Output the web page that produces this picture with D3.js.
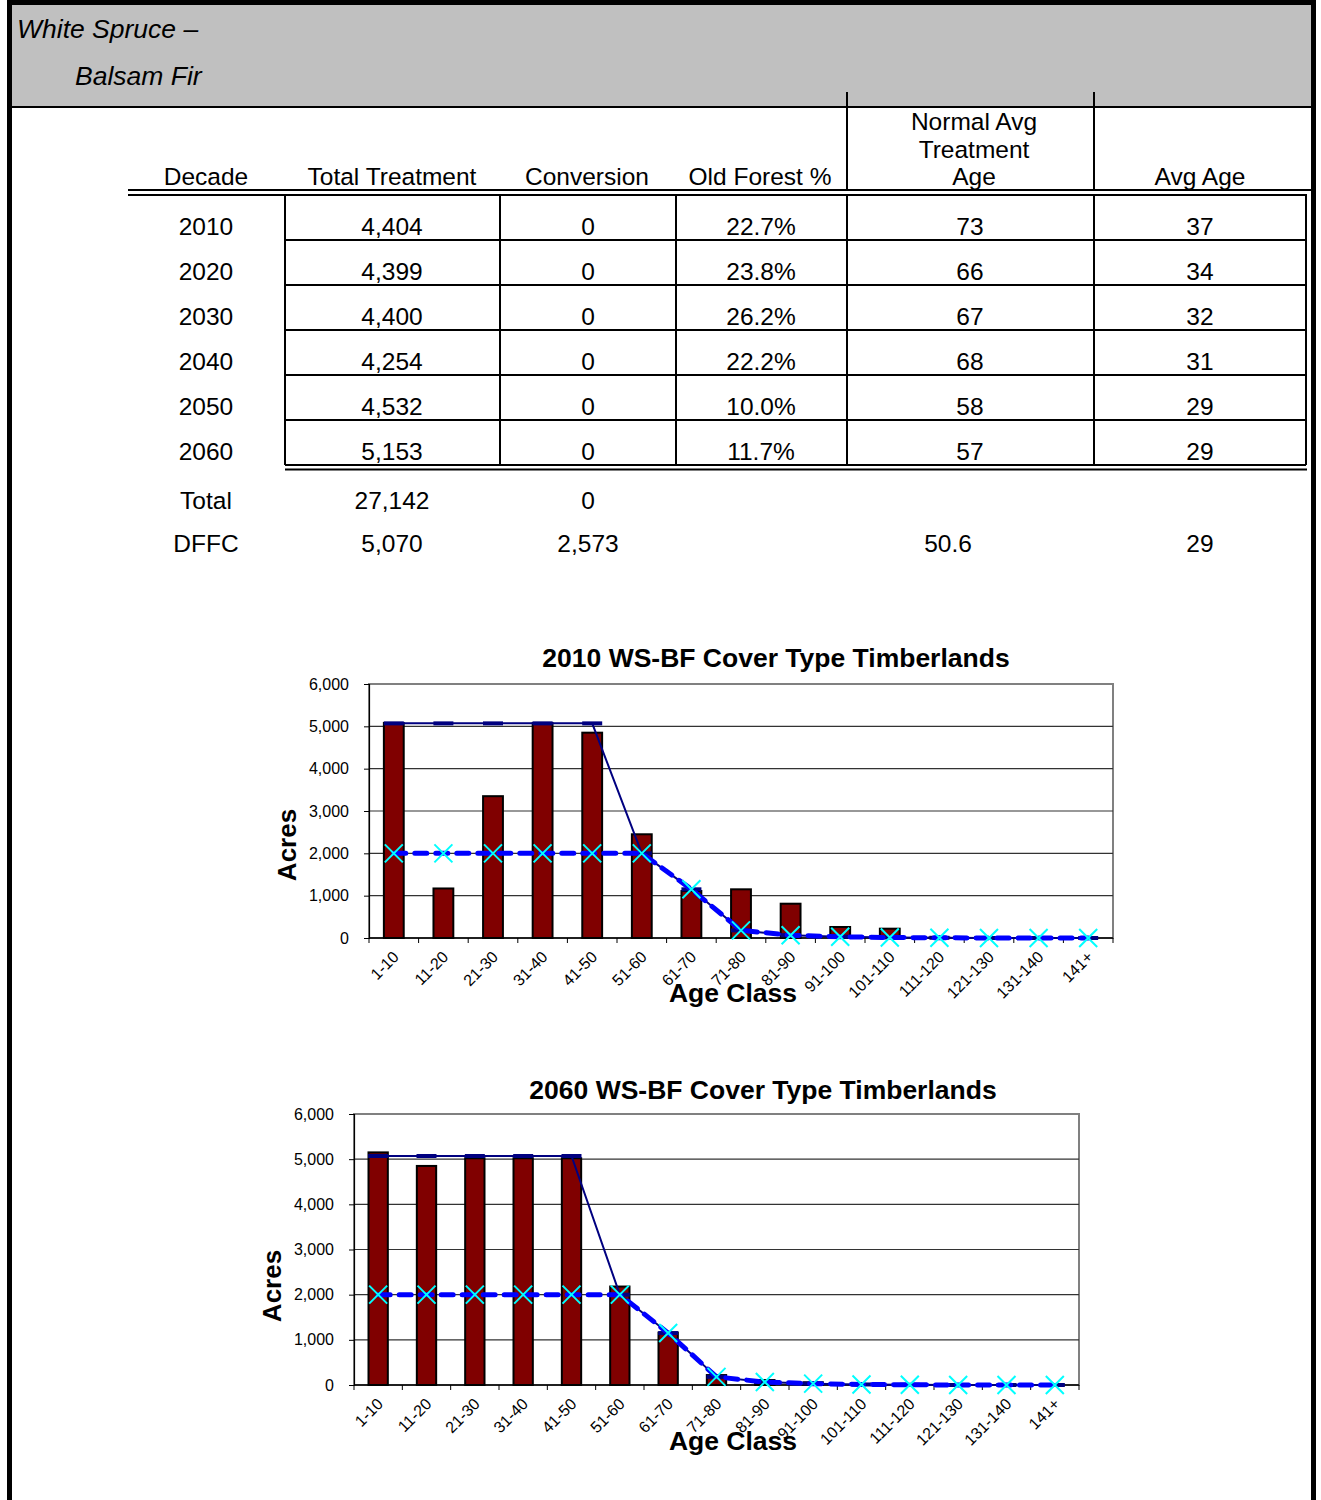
<!DOCTYPE html>
<html><head><meta charset="utf-8">
<script src="https://cdn.jsdelivr.net/npm/d3@7"></script>
<style>
body{margin:0;background:#fff}
svg{display:block;font-family:Arial,"Liberation Sans",sans-serif}
</style>
</head><body>
<svg id="c" width="1321" height="1500"></svg>
<script>
// ---------- DATA ----------
const ageClasses = ["1-10","11-20","21-30","31-40","41-50","51-60","61-70","71-80","81-90","91-100","101-110","111-120","121-130","131-140","141+"];
const acres2010 = [5080,1170,3350,5080,4850,2450,1110,1150,810,260,220,10,5,5,0];
const acres2060 = [5150,4850,5020,5020,5020,2180,1160,220,110,60,10,5,5,5,0];
const dffcLine = [5070,5070,5070,5070,5070,2000,1150,180,65,30,12,5,0,0,0];
const targetLine = [2000,2000,2000,2000,2000,2000,1150,180,65,30,12,5,0,0,0];
const yTicks = [0,1000,2000,3000,4000,5000,6000];

const headerTitle = ["White Spruce –","Balsam Fir"];
const colHeaders = [["Decade"],["Total Treatment"],["Conversion"],["Old Forest %"],["Normal Avg","Treatment","Age"],["Avg Age"]];
const decades = ["2010","2020","2030","2040","2050","2060"];
const totalTreatment = ["4,404","4,399","4,400","4,254","4,532","5,153"];
const conversion = ["0","0","0","0","0","0"];
const oldForest = ["22.7%","23.8%","26.2%","22.2%","10.0%","11.7%"];
const normalAvgAge = ["73","66","67","68","58","57"];
const avgAge = ["37","34","32","31","29","29"];
const totalRow = ["Total","27,142","0","","",""];
const dffcRow = ["DFFC","5,070","2,573","","50.6","29"];

// ---------- LAYOUT ----------
const svg = d3.select("#c");

svg.append("rect").attr("x",10).attr("y",4).attr("width",1303).attr("height",103).attr("fill","#c0c0c0");
svg.append("line").attr("x1",10).attr("x2",1313).attr("y1",107).attr("y2",107).attr("stroke","#000").attr("stroke-width",2);
svg.append("rect").attr("x",9.5).attr("y",2.5).attr("width",1304).attr("height",1560)
  .attr("fill","none").attr("stroke","#000").attr("stroke-width",5);

svg.append("text").attr("x",17).attr("y",38).attr("font-size",26.5).attr("font-style","italic").text(headerTitle[0]);
svg.append("text").attr("x",75).attr("y",85).attr("font-size",26.5).attr("font-style","italic").text(headerTitle[1]);

const colCenters = [206,392,588,761,970,1200];
const headCenters = [206,392,587,760,974,1200];
const cellX = [285,500,676,847,1094,1306];
const rowTop = 195, rowH = 45;
const fs = 24.5;
const line = (x1,y1,x2,y2,w=2)=>svg.append("line").attr("x1",x1).attr("y1",y1).attr("x2",x2).attr("y2",y2).attr("stroke","#000").attr("stroke-width",w);

line(847,92,847,190); line(1094,92,1094,190);
colHeaders.forEach((lines,i)=>{
  lines.forEach((t,j)=>{
    svg.append("text").attr("x",headCenters[i]).attr("y",185-(lines.length-1-j)*27.5)
      .attr("text-anchor","middle").attr("font-size",fs).text(t);
  });
});
line(128,190,1311,190,2); line(128,195,1307,195,2);
for(let r=1;r<=6;r++) line(cellX[0],rowTop+r*rowH,cellX[5],rowTop+r*rowH,2);
line(285,469.5,1307,469.5,2);
cellX.forEach(x=>line(x,rowTop,x,rowTop+6*rowH,2));

const cols = [decades,totalTreatment,conversion,oldForest,normalAvgAge,avgAge];
cols.forEach((arr,ci)=>{
  arr.forEach((t,ri)=>{
    svg.append("text").attr("x",colCenters[ci]).attr("y",rowTop+ri*rowH+40)
      .attr("text-anchor","middle").attr("font-size",fs).text(t);
  });
});
const extraCenters = [206,392,588,761,948,1200];
[totalRow,dffcRow].forEach((row,ri)=>{
  row.forEach((t,ci)=>{
    if(!t) return;
    svg.append("text").attr("x",extraCenters[ci]).attr("y",509+ri*43)
      .attr("text-anchor","middle").attr("font-size",fs).text(t);
  });
});

// ---------- CHARTS ----------
function drawChart(cfg){
  const g = svg.append("g");
  const x = d3.scaleBand().domain(ageClasses).range([cfg.left,cfg.right]);
  const y = d3.scaleLinear().domain([0,6000]).range([cfg.bottom,cfg.top]);
  const bw = x.bandwidth();
  const cx = d=>x(d)+bw/2;

  g.append("rect").attr("x",cfg.left).attr("y",cfg.top).attr("width",cfg.right-cfg.left).attr("height",cfg.bottom-cfg.top)
    .attr("fill","#fff").attr("stroke","#808080").attr("stroke-width",2);
  g.selectAll(".grid").data(yTicks.filter(d=>d>0 && d<6000)).enter().append("line")
    .attr("x1",cfg.left).attr("x2",cfg.right).attr("y1",d=>y(d)).attr("y2",d=>y(d))
    .attr("stroke","#333").attr("stroke-width",1.2);

  const barW = bw*0.4;
  g.selectAll(".bar").data(ageClasses.map((c,i)=>({c,v:cfg.bars[i]}))).enter().append("rect")
    .attr("x",d=>cx(d.c)-barW/2).attr("width",barW)
    .attr("y",d=>y(d.v)).attr("height",d=>y(0)-y(d.v))
    .attr("fill","#800000").attr("stroke","#000").attr("stroke-width",2);

  const ya = g.append("g").attr("transform",`translate(${cfg.left},0)`)
    .call(d3.axisLeft(y).tickValues(yTicks).tickFormat(d3.format(",")).tickSize(5).tickPadding(15));
  ya.select(".domain").attr("stroke","#000").attr("stroke-width",1.2);
  ya.selectAll("text").attr("font-size",16).attr("font-family","Arial,'Liberation Sans',sans-serif").attr("fill","#000");
  ya.selectAll(".tick line").attr("stroke","#000");

  g.append("line").attr("x1",cfg.left).attr("x2",cfg.right).attr("y1",cfg.bottom).attr("y2",cfg.bottom).attr("stroke","#000").attr("stroke-width",1.5);
  const bounds = ageClasses.map(c=>x(c)).concat([x(ageClasses[ageClasses.length-1])+bw]);
  g.selectAll(".xt").data(bounds).enter().append("line")
    .attr("x1",d=>d).attr("x2",d=>d).attr("y1",cfg.bottom).attr("y2",cfg.bottom+5).attr("stroke","#000");
  g.selectAll(".xl").data(ageClasses).enter().append("text")
    .attr("transform",d=>`translate(${cx(d)+6},${cfg.bottom+20}) rotate(-45)`)
    .attr("text-anchor","end").attr("font-size",16).text(d=>d);

  const ln = d3.line().x((d,i)=>cx(ageClasses[i])).y(d=>y(d));
  g.append("path").datum(cfg.dffc).attr("d",ln).attr("fill","none").attr("stroke","#000080").attr("stroke-width",2);
  g.selectAll(".dm").data(cfg.dffc).enter().append("line")
    .attr("x1",(d,i)=>cx(ageClasses[i])-10).attr("x2",(d,i)=>cx(ageClasses[i])+10)
    .attr("y1",d=>y(d)).attr("y2",d=>y(d)).attr("stroke","#000080").attr("stroke-width",4);
  g.append("path").datum(cfg.target).attr("d",ln).attr("fill","none").attr("stroke","#0000ff")
    .attr("stroke-width",5).attr("stroke-dasharray","12,9").attr("stroke-linecap","round");
  const ms = 9;
  cfg.target.forEach((v,i)=>{
    const px = cx(ageClasses[i]), py = y(v);
    g.append("path").attr("d",`M${px-ms},${py-ms}L${px+ms},${py+ms}M${px-ms},${py+ms}L${px+ms},${py-ms}`)
      .attr("stroke","#00ffff").attr("stroke-width",2).attr("fill","none");
  });

  g.append("text").attr("x",cfg.titleX).attr("y",cfg.titleY).attr("text-anchor","middle")
    .attr("font-size",26.5).attr("font-weight","bold").text(cfg.title);
  g.append("text").attr("transform",`translate(${cfg.acresX},${cfg.acresY}) rotate(-90)`).attr("text-anchor","middle")
    .attr("font-size",26).attr("font-weight","bold").text("Acres");
  g.append("text").attr("x",733).attr("y",cfg.ageY).attr("text-anchor","middle")
    .attr("font-size",26.5).attr("font-weight","bold").text("Age Class");
}

drawChart({left:369,right:1113,top:684,bottom:938,bars:acres2010,dffc:dffcLine,target:targetLine,
  title:"2010 WS-BF Cover Type Timberlands",titleX:776,titleY:667,acresX:296,acresY:845,ageY:1002});
drawChart({left:354,right:1079,top:1114,bottom:1385,bars:acres2060,dffc:dffcLine,target:targetLine,
  title:"2060 WS-BF Cover Type Timberlands",titleX:763,titleY:1099,acresX:281,acresY:1286,ageY:1450});
</script>
</body></html>
